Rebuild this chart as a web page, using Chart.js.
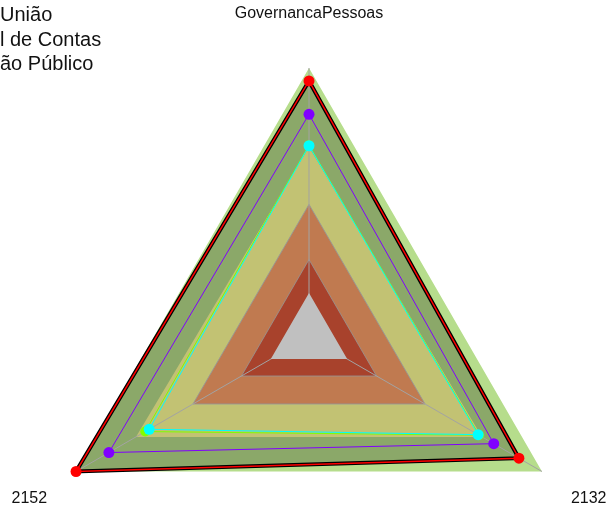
<!DOCTYPE html>
<html><head><meta charset="utf-8">
<script src="https://cdn.jsdelivr.net/npm/chart.js@4.4.1/dist/chart.umd.min.js"></script>
<style>
html,body{margin:0;padding:0;background:#fff;overflow:hidden}
#wrap{width:609px;height:512px;overflow:hidden;position:relative}
canvas{display:block}
</style>
</head><body>
<div id="wrap"><canvas id="c" width="609" height="607" style="width:609px;height:607px"></canvas></div>
<script>
// ---- data ----
const categories = ["GovernancaPessoas", "2132", "2152"];
const legendLines = ["União", "l de Contas", "ão Público"];
const bandMax = [100, 100, 100];
const bandYellow = [70.6, 74.3, 74.3];
const bandOrange = [49.3, 49.8, 49.8];
const bandDarkRed = [28.8, 29, 29];
const bandGray = [16.4, 16.4, 16.4];
const seriesRed = [95.2, 90.1, 100];
const seriesPurple = [82.8, 79.3, 85.9];
const seriesLime = [71.3, 73, 70.3];
const seriesCyan = [71.1, 72.6, 68.6];
const scaleMin = 0, scaleMax = 100;

const FONT = '"Liberation Sans", Arial, "DejaVu Sans", sans-serif';

function fillDs(data, color, border) {
  return {data, backgroundColor: color, borderColor: border || 'rgba(0,0,0,0)',
    borderWidth: border ? 1 : 0, fill: 'origin', pointRadius: 0, pointHoverRadius: 0, clip: false};
}
function lineDs(data, color, width, pr) {
  return {data, borderColor: color, borderWidth: width, backgroundColor: color, fill: false,
    pointRadius: pr, pointHoverRadius: pr, pointBackgroundColor: color, pointBorderWidth: 0, clip: false};
}

const datasets = [
  fillDs(bandMax, '#b6dd8c'),
  fillDs(seriesRed, '#8ba869'),
  fillDs(bandYellow, '#c2c273'),
  fillDs(bandOrange, '#c07a50', 'rgba(150,150,150,0.9)'),
  fillDs(bandDarkRed, '#a8422c', 'rgba(150,150,150,0.8)'),
  fillDs(bandGray, '#c0c0c0'),
  lineDs(seriesRed, '#000000', 4, 0),
  lineDs(seriesRed, '#ff0000', 1.5, 5.5),
  lineDs(seriesPurple, '#8000ff', 1, 5.5),
  lineDs(seriesLime, '#80ff00', 1, 5),
  lineDs(seriesCyan, '#00ffff', 1, 5.5)
];
datasets.forEach((d, i) => { d.order = 100 - i; });
const SPOKES_AFTER = 4;

const spokePlugin = {
  id: 'spokes',
  afterDatasetDraw(chart, args) {
    if (args.index !== SPOKES_AFTER) return;
    const s = chart.scales.r, ctx = chart.ctx;
    const dist = s.getDistanceFromCenterForValue(s.max);
    ctx.save();
    ctx.strokeStyle = '#a3a3a3';
    ctx.lineWidth = 1;
    for (let i = 0; i < chart.data.labels.length; i++) {
      const p = s.getPointPosition(i, dist);
      ctx.beginPath();
      ctx.moveTo(s.xCenter, s.yCenter);
      ctx.lineTo(p.x, p.y);
      ctx.stroke();
    }
    ctx.restore();
  }
};

const labelPlugin = {
  id: 'labelsText',
  afterDraw(chart) {
    const s = chart.scales.r, ctx = chart.ctx;
    ctx.save();
    ctx.fillStyle = '#111';
    ctx.font = '16px ' + FONT;
    ctx.textAlign = 'center';
    ctx.textBaseline = 'middle';
    chart.data.labels.forEach((lab, i) => {
      const p = s.getPointPosition(i, s.drawingArea + 54);
      ctx.fillText(lab, p.x, p.y);
    });
    ctx.font = '20px ' + FONT;
    ctx.textAlign = 'left';
    ctx.textBaseline = 'alphabetic';
    const base = [21, 45.5, 70];
    legendLines.forEach((t, i) => ctx.fillText(t, 0, base[i]));
    ctx.restore();
  }
};

new Chart(document.getElementById('c'), {
  type: 'radar',
  data: {labels: categories, datasets},
  options: {
    responsive: false,
    animation: false,
    devicePixelRatio: 1,
    layout: {padding: {left: 40, top: 68, right: 31, bottom: 1}, autoPadding: false},
    elements: {line: {tension: 0}},
    plugins: {legend: false, title: false, subtitle: false, tooltip: {enabled: false}},
    scales: {
      r: {
        min: scaleMin, max: scaleMax,
        ticks: {display: false},
        grid: {display: false},
        angleLines: {display: false},
        pointLabels: {display: false}
      }
    }
  },
  plugins: [spokePlugin, labelPlugin]
});
</script>
</body></html>
